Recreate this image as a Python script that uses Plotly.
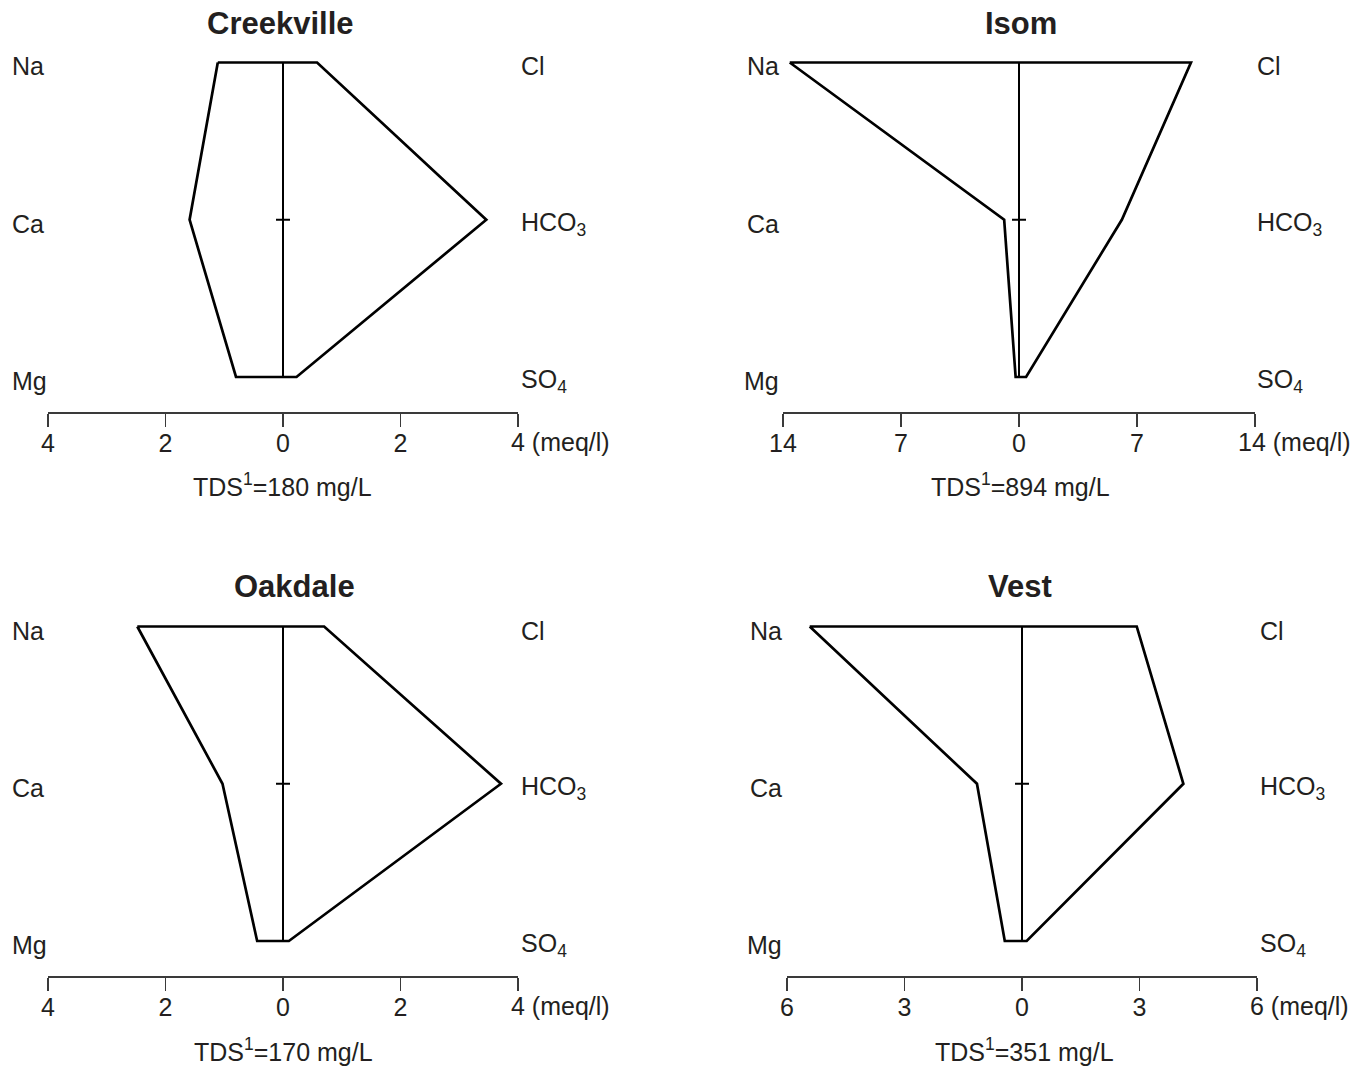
import plotly.graph_objects as go

# ---------------- data (meq/l) ----------------
sites = ["Creekville", "Isom", "Oakdale", "Vest"]
tds_mg_l = [180, 894, 170, 351]
axis_limits = [4, 14, 4, 6]

na = [1.11, 13.6, 2.48, 5.42]
ca = [1.59, 0.88, 1.03, 1.15]
mg = [0.80, 0.20, 0.44, 0.44]
cl = [0.58, 10.2, 0.70, 2.93]
hco3 = [3.46, 6.1, 3.71, 4.12]
so4 = [0.23, 0.42, 0.10, 0.12]

cation_labels = ["Na", "Ca", "Mg"]
anion_labels = ["Cl", "HCO<sub>3</sub>", "SO<sub>4</sub>"]
row_levels = [3, 2, 1]  # Na/Cl, Ca/HCO3, Mg/SO4
unit_label = "(meq/l)"

# ---------------- layout geometry (pixels in the final page) ----------------
W, H = 1368, 1067
FONT = "Liberation Sans, Arial, Helvetica, sans-serif"
TXT = "#231f20"


def px(x):
    return x / W


def py(y):
    return 1 - y / H


panels = [
    dict(l=48, r=518, na=62.5, mg=377, ax=412, tx=280, ty=23, dx=282, dy=485,
         cx=10, cside="left", ax_x=519),
    dict(l=783, r=1255, na=62.5, mg=377, ax=412, tx=1021, ty=23, dx=1020, dy=485,
         cx=781, cside="right", ax_x=1255),
    dict(l=48, r=518, na=626.5, mg=941, ax=976, tx=294, ty=586, dx=283, dy=1050,
         cx=10, cside="left", ax_x=519),
    dict(l=787, r=1257, na=626.5, mg=941, ax=976, tx=1020, ty=586, dx=1024, dy=1050,
         cx=784, cside="right", ax_x=1258),
]

fig = go.Figure()
annotations = []
shapes = []
layout_axes = {}

for i, site in enumerate(sites):
    p = panels[i]
    k = "" if i == 0 else str(i + 1)
    xa, ya = "x" + k, "y" + k
    lim = axis_limits[i]
    spacing = (p["mg"] - p["na"]) / 2.0
    top_px = p["na"] - 15
    y_lo = 1 - (p["ax"] - p["mg"]) / spacing
    y_hi = 3 + (p["na"] - top_px) / spacing

    tickvals = [-lim, -lim / 2, 0, lim / 2, lim]
    ticktext = [f"{abs(v):g}" for v in tickvals]
    ticktext[-1] = ""  # last label drawn together with the unit

    layout_axes["xaxis" + k] = dict(
        domain=[px(p["l"]), px(p["r"])], anchor=ya, range=[-lim, lim],
        automargin=False,
        showgrid=False, zeroline=False, showline=True, linecolor="#3a3a3a",
        linewidth=2, ticks="outside", ticklen=13, tickwidth=1.5, tickcolor="#3a3a3a",
        tickvals=tickvals, ticktext=ticktext, ticklabelstandoff=-5,
        tickfont=dict(family=FONT, size=25, color=TXT), fixedrange=True,
    )
    layout_axes["yaxis" + k] = dict(
        domain=[py(p["ax"]), py(top_px)], anchor=xa, range=[y_lo, y_hi],
        automargin=False, visible=False, fixedrange=True,
    )

    # Stiff polygon
    xs = [-na[i], -ca[i], -mg[i], so4[i], hco3[i], cl[i], -na[i]]
    ys = [3, 2, 1, 1, 2, 3, 3]
    fig.add_trace(go.Scatter(x=xs, y=ys, mode="lines", xaxis=xa, yaxis=ya,
                             line=dict(color="black", width=2.7),
                             hoverinfo="skip", showlegend=False))
    # centre line
    fig.add_trace(go.Scatter(x=[0, 0], y=[1, 3], mode="lines", xaxis=xa, yaxis=ya,
                             line=dict(color="black", width=2),
                             hoverinfo="skip", showlegend=False))
    # centre cross tick
    shapes.append(dict(type="line", xref=xa, yref=ya, xsizemode="pixel", xanchor=0,
                       x0=-7, x1=7, y0=2, y1=2,
                       line=dict(color="black", width=2)))

    # ion labels
    for lab, lv in zip(cation_labels, row_levels):
        annotations.append(dict(
            text=lab, xref="paper", yref=ya, x=px(p["cx"]), y=lv, yshift=-4,
            xanchor=p["cside"], yanchor="middle", showarrow=False,
            font=dict(family=FONT, size=25, color=TXT)))
    for lab, lv in zip(anion_labels, row_levels):
        annotations.append(dict(
            text=lab, xref="paper", yref=ya, x=px(p["ax_x"]), y=lv, yshift=-4,
            xanchor="left", yanchor="middle", showarrow=False,
            font=dict(family=FONT, size=25, color=TXT)))

    # title
    annotations.append(dict(
        text=f"<b>{site}</b>", xref="paper", yref="paper", x=px(p["tx"]), y=py(p["ty"]),
        xanchor="center", yanchor="middle", showarrow=False,
        font=dict(family=FONT, size=31, color=TXT)))
    # last tick value + unit label
    last = f"{lim:g}"
    annotations.append(dict(
        text=f"{last} {unit_label}", xref=xa, yref="paper", x=lim,
        xshift=-9 if len(last) == 1 else -19,
        y=py(p["ax"] + 30), xanchor="left", yanchor="middle", showarrow=False,
        font=dict(family=FONT, size=25, color=TXT)))
    # TDS label
    annotations.append(dict(
        text=f"TDS<sup>1</sup>={tds_mg_l[i]} mg/L", xref="paper", yref="paper",
        x=px(p["dx"]), y=py(p["dy"]), xanchor="center", yanchor="middle",
        showarrow=False, font=dict(family=FONT, size=25, color=TXT)))

fig.update_layout(
    template="none",
    width=W, height=H, margin=dict(l=0, r=0, t=0, b=0, pad=0, autoexpand=False),
    paper_bgcolor="white", plot_bgcolor="white",
    showlegend=False, annotations=annotations, shapes=shapes,
    **layout_axes,
)

fig.write_html("out.html",
               config={"displayModeBar": False, "staticPlot": True},
               post_script="document.body.style.margin='0px';document.body.style.overflow='hidden';")
